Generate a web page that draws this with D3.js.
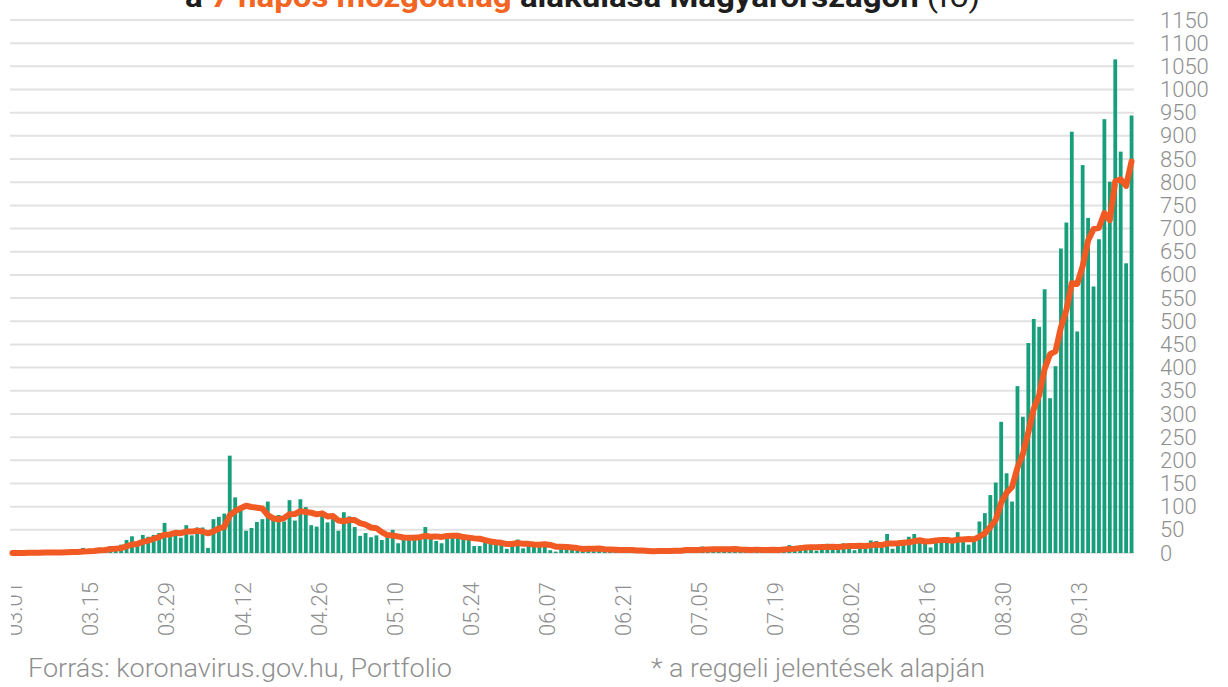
<!DOCTYPE html>
<html>
<head>
<meta charset="utf-8">
<script src="https://cdn.jsdelivr.net/npm/d3@7"></script>
<style>
  html, body { margin: 0; padding: 0; background: #ffffff; }
  svg { display: block; }
</style>
</head>
<body>
<div id="chart"></div>
<script>
// ---- DATA ----
const startDate = "2020-03-01";
// daily new cases (morning reports), 2020-03-01 .. 2020-09-23
const marchCases = [0,0,0,2,0,2,3,0,2,0,4,3,3,11,2,7,11,8,15,12,18,28,36,20,39,35,39,43,65,39,45];
const aprilCases = [33,60,38,55,55,11,73,78,85,210,120,100,48,54,67,73,111,71,82,68,114,70,116,99,60,57,83,66,78,48];
const mayCases   = [88,79,56,37,43,34,38,28,35,50,21,29,28,39,37,56,36,26,21,42,43,37,35,28,15,15,22,23,25,26,9];
const juneCases  = [16,29,10,23,16,20,18,6,3,10,19,7,11,5,8,4,13,8,5,7,1,8,4,4,7,1,3,3,10,2];
const julyCases  = [9,6,11,6,1,14,6,13,7,11,4,5,8,2,10,11,5,3,10,5,8,17,15,16,13,12,5,11,20,17,13];
const augustCases = [21,18,6,16,14,27,26,12,41,9,19,21,35,41,27,22,12,32,27,34,31,45,24,18,27,68,86,125,152,283,172];
const septemberCases = [111,360,294,453,505,488,569,334,403,657,713,909,478,837,723,575,677,936,801,1065,866,625,944];

const xTickLabels = ["03.01","03.15","03.29","04.12","04.26","05.10","05.24","06.07","06.21","07.05","07.19","08.02","08.16","08.30","09.13"];
const yTickValues = [0,50,100,150,200,250,300,350,400,450,500,550,600,650,700,750,800,850,900,950,1000,1050,1100,1150];

const titleParts = [
  {text: "a ", color: "#1e1e1e"},
  {text: "7 napos mozgóátlag", color: "#f26522"},
  {text: " alakulása Magyarországon ", color: "#1e1e1e"},
  {text: "(fő)", color: "#1e1e1e", weight: 400}
];
const sourceText = "Forrás: koronavirus.gov.hu, Portfolio";
const noteText = "* a reggeli jelentések alapján";

// ---- BUILD ----
const cases = [].concat(marchCases, aprilCases, mayCases, juneCases, julyCases, augustCases, septemberCases);
const parse = d3.timeParse("%Y-%m-%d");
const fmt = d3.timeFormat("%m.%d");
const days = cases.map((v, i) => d3.timeDay.offset(parse(startDate), i));
const data = cases.map((v, i) => ({ label: fmt(days[i]), value: v, i }));
// 7-day moving average of the daily values
data.forEach((d, i) => {
  const w = cases.slice(Math.max(0, i - 6), i + 1);
  d.ma = d3.mean(w);
});

const W = 1228, H = 687;
const svg = d3.select("#chart").append("svg").attr("width", W).attr("height", H)
  .style("font-family", "Roboto, 'Noto Sans', sans-serif");

const x = d3.scaleBand().domain(data.map(d => d.label)).range([10, 1134]).paddingInner(0.3).paddingOuter(0.1);
const y = d3.scaleLinear().domain([0, 1150]).range([553, 20]);

// gridlines
svg.append("g").selectAll("line").data(yTickValues).join("line")
  .attr("x1", 10).attr("x2", 1134)
  .attr("y1", d => y(d)).attr("y2", d => y(d))
  .attr("stroke", "#e2e2e2").attr("stroke-width", 2);

// bars
svg.append("g").selectAll("rect").data(data).join("rect")
  .attr("x", d => x(d.label))
  .attr("width", x.bandwidth())
  .attr("y", d => y(d.value))
  .attr("height", d => y(0) - y(d.value))
  .attr("fill", "#179f7c");

// moving average line
const line = d3.line()
  .x(d => x(d.label) + x.bandwidth() / 2)
  .y(d => y(d.ma));
svg.append("path").datum(data)
  .attr("d", line)
  .attr("fill", "none")
  .attr("stroke", "#f15a22")
  .attr("stroke-width", 6)
  .attr("stroke-linejoin", "round")
  .attr("stroke-linecap", "round");

// right y axis labels
const yAxis = d3.axisRight(y).tickValues(yTickValues).tickFormat(d3.format("d")).tickSize(0).tickPadding(0);
const gy = svg.append("g").attr("transform", "translate(1160,0)").call(yAxis);
gy.select(".domain").remove();
gy.selectAll("text")
  .attr("fill", "#8f8f8f")
  .style("font-size", "22px")
  .style("font-weight", "300")
  .style("font-family", "Roboto, sans-serif")
  .attr("text-anchor", "start");

// x axis labels (rotated)
svg.append("defs").append("clipPath").attr("id", "xclip")
  .append("rect").attr("x", 11).attr("y", 560).attr("width", 1200).attr("height", 100);
const xAxis = d3.axisBottom(x).tickValues(xTickLabels).tickSize(0).tickPadding(0);
const gx = svg.append("g").attr("clip-path", "url(#xclip)")
  .append("g").attr("transform", "translate(2,582)").call(xAxis);
gx.select(".domain").remove();
gx.selectAll("text")
  .attr("transform", "rotate(-90)")
  .attr("x", 0).attr("y", 0).attr("dy", "0.36em")
  .attr("text-anchor", "end")
  .attr("fill", "#8f8f8f")
  .style("font-size", "22px")
  .style("font-weight", "300")
  .style("font-family", "Roboto, sans-serif");

// title (partly cut off at the top, as in the original)
const title = svg.append("text")
  .attr("x", 185).attr("y", 7)
  .attr("textLength", 795).attr("lengthAdjust", "spacingAndGlyphs")
  .style("font-size", "29px").style("font-weight", "700");
title.selectAll("tspan").data(titleParts).join("tspan")
  .attr("fill", d => d.color)
  .style("font-weight", d => d.weight || 700)
  .text(d => d.text);

// footer
svg.append("text").attr("x", 28).attr("y", 677)
  .attr("textLength", 424).attr("lengthAdjust", "spacingAndGlyphs")
  .attr("fill", "#8f8f8f").style("font-size", "25px").style("font-weight", "300")
  .text(sourceText);
svg.append("text").attr("x", 651).attr("y", 677)
  .attr("textLength", 334).attr("lengthAdjust", "spacingAndGlyphs")
  .attr("fill", "#8f8f8f").style("font-size", "25px").style("font-weight", "300")
  .text(noteText);
</script>
</body>
</html>
